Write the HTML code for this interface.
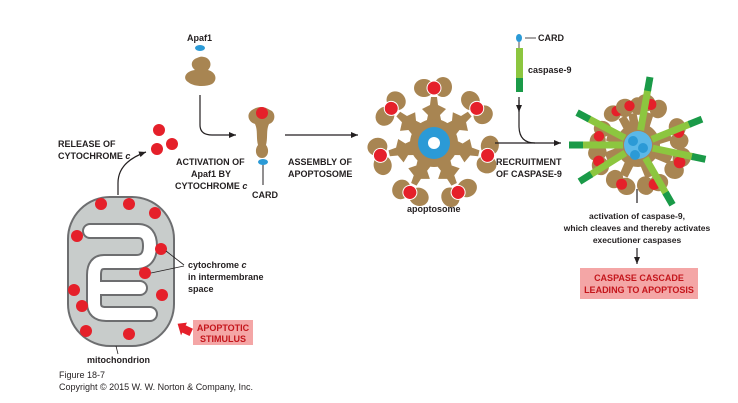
<!DOCTYPE html>
<html><head><meta charset="utf-8"><style>
body{margin:0;background:#fff}
svg{display:block}
text{font-family:"Liberation Sans",sans-serif;font-weight:bold;font-size:9px;fill:#231f20}
</style></head><body>
<svg width="738" height="403" viewBox="0 0 738 403" xmlns="http://www.w3.org/2000/svg">
<defs>
<marker id="ah" markerWidth="8" markerHeight="8" refX="7" refY="4" orient="auto" markerUnits="userSpaceOnUse">
<path d="M0,1 L7,4 L0,7 Z" fill="#231f20"/></marker>
<g id="arm">
<path d="M-9,-14 L-6,-28 L-12,-34 L-4,-38 L-3,-46 L3,-46 L4,-38 L12,-34 L6,-28 L9,-14 Z" fill="#a88552"/>
<ellipse cx="-10" cy="-55" rx="10" ry="9" fill="#a88552"/>
<ellipse cx="9" cy="-56" rx="9" ry="10" fill="#a88552"/>
<circle cx="0" cy="-55" r="7.5" fill="#fff"/>
<circle cx="0" cy="-55" r="6.5" fill="#e5202a"/>
</g>
<g id="blob">
<ellipse cx="-8" cy="-50" rx="11" ry="10" fill="#a88552"/>
<ellipse cx="8" cy="-48" rx="10" ry="11" fill="#a88552"/>
<circle cx="-2" cy="-50" r="6.5" fill="#e5202a"/>
<path d="M-6,-12 L-5,-40 L5,-40 L6,-12Z" fill="#a88552"/>
</g>
<g id="bar">
<rect x="15" y="-3.5" width="42" height="7" fill="#8cc63f"/>
<rect x="55" y="-3.5" width="14" height="7" fill="#1a9a48"/>
</g>
</defs>

<!-- Apaf1 inactive -->
<text x="187" y="41">Apaf1</text>
<ellipse cx="200" cy="48" rx="5" ry="3" fill="#2b9ad6"/>
<path d="M197,58 C191,60 190,66 195,70 C186,71 182,78 188,82 C194,87 206,87 212,84 C218,80 216,72 208,70 C213,65 210,58 204,57 C201,56 199,57 197,58Z" fill="#a88552"/>
<path d="M200,95 L200,125 Q200,135 212,135 L236,135" fill="none" stroke="#231f20" stroke-width="1.2" marker-end="url(#ah)"/>

<!-- cytochrome released -->
<circle cx="159" cy="130" r="6" fill="#e5202a"/>
<circle cx="157" cy="149" r="6" fill="#e5202a"/>
<circle cx="172" cy="144" r="6" fill="#e5202a"/>
<text x="58" y="147">RELEASE OF</text>
<text x="58" y="159">CYTOCHROME <tspan font-style="italic">c</tspan></text>
<path d="M118,195 L118,183 Q118,162 146,152" fill="none" stroke="#231f20" stroke-width="1.2" marker-end="url(#ah)"/>

<!-- Activated Apaf1 -->
<path d="M252,110 C246,114 248,122 255,124 C258,130 256,138 258,145 C254,150 256,158 262,158 C268,158 270,150 266,145 C268,138 266,130 269,124 C276,122 276,112 270,110 C264,106 258,106 252,110Z" fill="#a88552"/>
<circle cx="262" cy="113" r="6" fill="#e5202a"/>
<ellipse cx="263" cy="162" rx="5" ry="3" fill="#2b9ad6"/>
<line x1="263" y1="165" x2="263" y2="185" stroke="#231f20"/>
<text x="252" y="198">CARD</text>
<text x="176" y="165">ACTIVATION OF</text>
<text x="191" y="177">Apaf1 BY</text>
<text x="175" y="189">CYTOCHROME <tspan font-style="italic">c</tspan></text>

<line x1="285" y1="135" x2="358" y2="135" stroke="#231f20" stroke-width="1.2" marker-end="url(#ah)"/>
<text x="288" y="165">ASSEMBLY OF</text>
<text x="288" y="177">APOPTOSOME</text>

<!-- apoptosome -->
<g transform="translate(434,143)">
<use href="#arm" transform="rotate(0)"/>
<use href="#arm" transform="rotate(51)"/>
<use href="#arm" transform="rotate(103)"/>
<use href="#arm" transform="rotate(154)"/>
<use href="#arm" transform="rotate(206)"/>
<use href="#arm" transform="rotate(257)"/>
<use href="#arm" transform="rotate(309)"/>
<circle r="24" fill="#a88552"/>
<circle r="16" fill="#2b9ad6"/>
<circle r="6" fill="#fff"/>
</g>
<text x="407" y="212">apoptosome</text>

<!-- caspase-9 -->
<ellipse cx="519" cy="38" rx="3" ry="4" fill="#2b9ad6"/>
<line x1="519" y1="42" x2="519" y2="48" stroke="#231f20" stroke-width="0.8"/>
<line x1="525" y1="38" x2="536" y2="38" stroke="#231f20" stroke-width="0.8"/>
<text x="538" y="41">CARD</text>
<rect x="516" y="48" width="7" height="30" fill="#8cc63f"/>
<rect x="516" y="78" width="7" height="14" fill="#1a9a48"/>
<text x="528" y="73">caspase-9</text>
<path d="M519,97 L519,126 Q519,143 535,143" fill="none" stroke="#231f20" stroke-width="1.2"/>
<line x1="495" y1="143" x2="561" y2="143" stroke="#231f20" stroke-width="1.2" marker-end="url(#ah)"/>
<line x1="519" y1="100" x2="519" y2="112" stroke="#231f20" stroke-width="1.2" marker-end="url(#ah)"/>
<text x="496" y="165">RECRUITMENT</text>
<text x="496" y="177">OF CASPASE-9</text>

<!-- complex -->
<g transform="translate(638,145)">
<use href="#blob" transform="rotate(-75) scale(0.8)"/>
<use href="#blob" transform="rotate(-30) scale(0.8)"/>
<use href="#blob" transform="rotate(20) scale(0.85)"/>
<use href="#blob" transform="rotate(75) scale(0.85)"/>
<use href="#blob" transform="rotate(115) scale(0.9)"/>
<use href="#blob" transform="rotate(160) scale(0.85)"/>
<use href="#blob" transform="rotate(205) scale(0.85)"/>
<use href="#blob" transform="rotate(250) scale(0.85)"/>
<use href="#blob" transform="rotate(-10) scale(0.8)"/>
<circle r="22" fill="#a88552"/>
<circle r="14" fill="#5bb8e8"/>
<circle cx="-5" cy="-4" r="5" fill="#2b9ad6"/>
<circle cx="5" cy="3" r="5" fill="#2b9ad6"/>
<circle cx="-3" cy="10" r="5" fill="#2b9ad6"/>
<use href="#bar" transform="rotate(180)"/>
<use href="#bar" transform="rotate(-152)"/>
<use href="#bar" transform="rotate(-80)"/>
<use href="#bar" transform="rotate(-22)"/>
<use href="#bar" transform="rotate(12)"/>
<use href="#bar" transform="rotate(60)"/>
<use href="#bar" transform="rotate(148)"/>
</g>

<line x1="637" y1="189" x2="637" y2="203" stroke="#231f20" stroke-width="1.2"/>
<text x="637" y="219" text-anchor="middle" style="font-size:8.5px">activation of caspase-9,</text>
<text x="637" y="231" text-anchor="middle" style="font-size:8.5px">which cleaves and thereby activates</text>
<text x="637" y="243" text-anchor="middle" style="font-size:8.5px">executioner caspases</text>
<line x1="637" y1="248" x2="637" y2="264" stroke="#231f20" stroke-width="1.2" marker-end="url(#ah)"/>
<rect x="580" y="268" width="118" height="31" fill="#f4a6a6"/>
<text x="639" y="281" text-anchor="middle" style="fill:#c4161c">CASPASE CASCADE</text>
<text x="639" y="293" text-anchor="middle" style="fill:#c4161c">LEADING TO APOPTOSIS</text>

<!-- mitochondrion -->
<rect x="68" y="197" width="106" height="149" rx="42" ry="42" fill="#c8cccb" stroke="#6d6e70" stroke-width="2"/>
<path d="M90,231 H138 Q150,231 150,246 Q150,262 136,262 H104 Q94,262 94,275 V303 Q94,314 106,314 H150" fill="none" stroke="#6d6e70" stroke-width="16" stroke-linecap="round" stroke-linejoin="round"/>
<path d="M94,288 H140" fill="none" stroke="#6d6e70" stroke-width="16" stroke-linecap="round"/>
<path d="M90,231 H138 Q150,231 150,246 Q150,262 136,262 H104 Q94,262 94,275 V303 Q94,314 106,314 H150" fill="none" stroke="#fff" stroke-width="12" stroke-linecap="round" stroke-linejoin="round"/>
<path d="M96,288 H140" fill="none" stroke="#fff" stroke-width="12" stroke-linecap="round"/>
<g fill="#e5202a">
<circle cx="101" cy="204" r="6"/><circle cx="129" cy="204" r="6"/><circle cx="155" cy="213" r="6"/>
<circle cx="77" cy="236" r="6"/><circle cx="161" cy="249" r="6"/><circle cx="145" cy="273" r="6"/>
<circle cx="74" cy="290" r="6"/><circle cx="82" cy="306" r="6"/><circle cx="162" cy="295" r="6"/>
<circle cx="86" cy="331" r="6"/><circle cx="129" cy="334" r="6"/>
</g>
<line x1="166" y1="251" x2="184" y2="265" stroke="#231f20" stroke-width="0.8"/>
<line x1="151" y1="273" x2="184" y2="266" stroke="#231f20" stroke-width="0.8"/>
<text x="188" y="268">cytochrome <tspan font-style="italic">c</tspan></text>
<text x="188" y="280">in intermembrane</text>
<text x="188" y="292">space</text>
<line x1="116" y1="346" x2="118" y2="354" stroke="#231f20" stroke-width="0.8"/>
<text x="87" y="363">mitochondrion</text>

<path d="M176,327 L184,322 L184,325 L192,325 L192,333 L184,333 L184,336 Z" fill="#e5202a" transform="rotate(25 184 329)"/>
<rect x="193" y="320" width="60" height="25" fill="#f4a6a6"/>
<text x="223" y="331" text-anchor="middle" style="fill:#c4161c">APOPTOTIC</text>
<text x="223" y="342" text-anchor="middle" style="fill:#c4161c">STIMULUS</text>

<text x="59" y="378" style="font-weight:normal;font-size:9px">Figure 18-7</text>
<text x="59" y="390" style="font-weight:normal;font-size:9px">Copyright © 2015 W. W. Norton &amp; Company, Inc.</text>
</svg>
</body></html>
